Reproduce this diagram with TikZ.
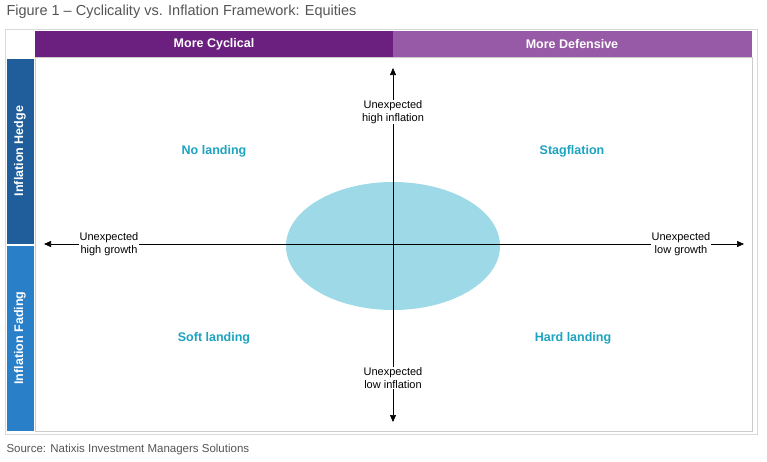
\documentclass[tikz,border=0pt]{standalone}
\usepackage{fontspec}
\setmainfont{Liberation Sans}
\usetikzlibrary{arrows.meta}
\definecolor{dpurp}{HTML}{6B1F7F}
\definecolor{lpurp}{HTML}{975AA6}
\definecolor{dblue}{HTML}{1F5E9B}
\definecolor{lblue}{HTML}{2A7FC9}
\definecolor{ell}{HTML}{9DD9E6}
\definecolor{teal}{HTML}{1CA3C0}
\definecolor{grtxt}{HTML}{555555}
\begin{document}
\begin{tikzpicture}[x=1pt,y=-1pt,
  quad/.style={text=teal,font=\bfseries\fontsize{12.5}{14}\selectfont},
  axl/.style={fill=white,align=center,font=\fontsize{11}{12.5}\selectfont,inner sep=1pt},
  hdr/.style={text=white,font=\bfseries\fontsize{12.5}{14}\selectfont},
  arr/.style={-{Triangle[length=7pt,width=6pt]},line width=0.6pt}]
\useasboundingbox (0,0) rectangle (767,461);
\fill[white] (0,0) rectangle (767,461);
\node[anchor=west,text=grtxt,font=\fontsize{14.5}{16}\selectfont] (title) at (3,12) {Figure 1 – Cyclicality vs. Inflation Framework: Equities};
\draw[gray!30] (5,29) rectangle (757,434);
\draw[gray!40] (35,57) rectangle (752,431);
\fill[dpurp] (35,31) rectangle (393,57);
\fill[lpurp] (393,31) rectangle (752,57);
\node[hdr] (cyc) at (214,44) {More Cyclical};
\node[hdr] (def) at (572,44) {More Defensive};
\fill[dblue] (7,59) rectangle (34,244);
\fill[lblue] (7,246) rectangle (34,431);
\node[hdr,rotate=90] (hedge) at (20,151) {Inflation Hedge};
\node[hdr,rotate=90] (fade) at (20,338) {Inflation Fading};
\fill[ell] (393,246) ellipse [x radius=107, y radius=64];
\coordinate (top) at (393,68);
\coordinate (bot) at (393,422);
\coordinate (lft) at (44,244);
\coordinate (rgt) at (744,244);
\coordinate (c) at (393,244);
\draw[arr] (c) -- (top);
\draw[arr] (c) -- (bot);
\draw[arr] (c) -- (lft);
\draw[arr] (c) -- (rgt);
\node[axl] (hi) at (393,112) {Unexpected\\high inflation};
\node[axl] (li) at (393,378) {Unexpected\\low inflation};
\node[axl] (hg) at (109,244) {Unexpected\\high growth};
\node[axl] (lg) at (681,244) {Unexpected\\low growth};
\node[quad] (nl) at (214,151) {No landing};
\node[quad] (st) at (572,151) {Stagflation};
\node[quad] (sl) at (214,338) {Soft landing};
\node[quad] (hl) at (573,338) {Hard landing};
\node[anchor=west,text=grtxt,font=\fontsize{11.5}{13}\selectfont] (src) at (3,450) {Source: Natixis Investment Managers Solutions};
\end{tikzpicture}
\end{document}
